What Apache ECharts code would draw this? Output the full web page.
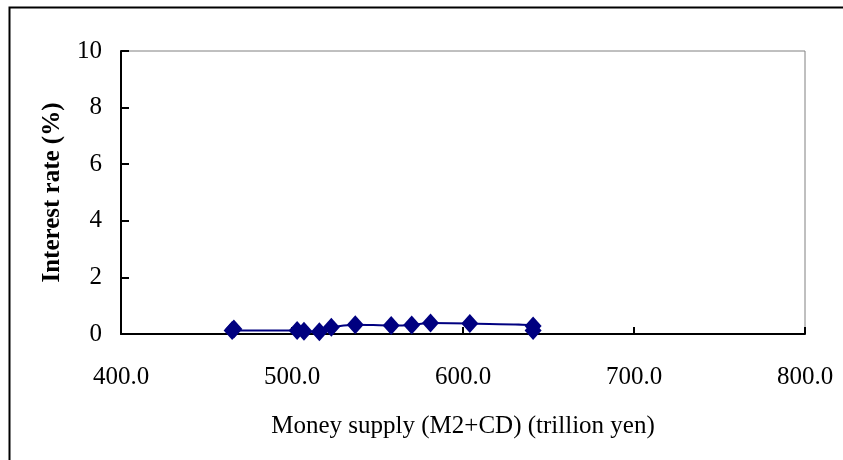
<!DOCTYPE html>
<html>
<head>
<meta charset="utf-8">
<script src="https://cdn.jsdelivr.net/npm/echarts@6/dist/echarts.min.js"></script>
<style>
  html, body { margin: 0; padding: 0; background: #fff; }
  #chart { width: 843px; height: 460px; }
</style>
</head>
<body>
<div id="chart"></div>
<script>
// money supply (trillion yen) and interest rate (%)
const moneySupply = [466, 465, 503, 507, 516, 523, 537, 558, 570, 581, 604, 641, 641]
const interestRate = [0.18, 0.12, 0.12, 0.1, 0.08, 0.24, 0.33, 0.3, 0.32, 0.39, 0.37, 0.28, 0.12]
const xTicks = [400, 500, 600, 700, 800]
const yTicks = [0, 2, 4, 6, 8, 10]

const serif = '"Liberation Serif", "DejaVu Serif", serif'

let myChart = echarts.init(document.getElementById('chart'))

const option = {
  animation: false,
  graphic: [
    {
      type: 'rect',
      left: 7, top: 5,
      shape: { width: 1000, height: 1000 },
      style: { fill: 'none', stroke: '#000', lineWidth: 2 },
      silent: true
    }
  ],
  grid: {
    left: 121, top: 51, right: 38, bottom: 126,
    show: true,
    borderColor: '#808080',
    borderWidth: 1,
    containLabel: false
  },
  xAxis: {
    type: 'value',
    min: xTicks[0],
    max: xTicks[xTicks.length - 1],
    interval: 100,
    name: 'Money supply (M2+CD) (trillion yen)',
    nameLocation: 'middle',
    nameGap: 80,
    nameTextStyle: { fontFamily: serif, fontSize: 25, color: '#000' },
    axisLine: { onZero: false, lineStyle: { color: '#000', width: 2 } },
    axisTick: { inside: true, length: 7, lineStyle: { color: '#000', width: 2 } },
    axisLabel: {
      margin: 31,
      fontFamily: serif, fontSize: 25, color: '#000',
      formatter: v => v.toFixed(1)
    },
    splitLine: { show: false }
  },
  yAxis: {
    type: 'value',
    min: yTicks[0],
    max: yTicks[yTicks.length - 1],
    interval: 2,
    name: 'Interest rate (%)',
    nameLocation: 'middle',
    nameGap: 56,
    nameTextStyle: { fontFamily: serif, fontSize: 25, fontWeight: 'bold', color: '#000' },
    axisLine: { show: true, lineStyle: { color: '#000', width: 2 } },
    axisTick: { show: true, inside: true, length: 8, lineStyle: { color: '#000', width: 2 } },
    axisLabel: { margin: 19, fontFamily: serif, fontSize: 25, color: '#000' },
    splitLine: { show: false }
  },
  series: [
    {
      type: 'line',
      data: moneySupply.map((x, i) => [x, interestRate[i]]),
      smooth: 0.3,
      symbol: 'diamond',
      symbolSize: [17, 19],
      showAllSymbol: true,
      lineStyle: { color: '#000080', width: 2 },
      itemStyle: { color: '#000080' }
    }
  ]
}

myChart.setOption(option)
</script>
</body>
</html>
